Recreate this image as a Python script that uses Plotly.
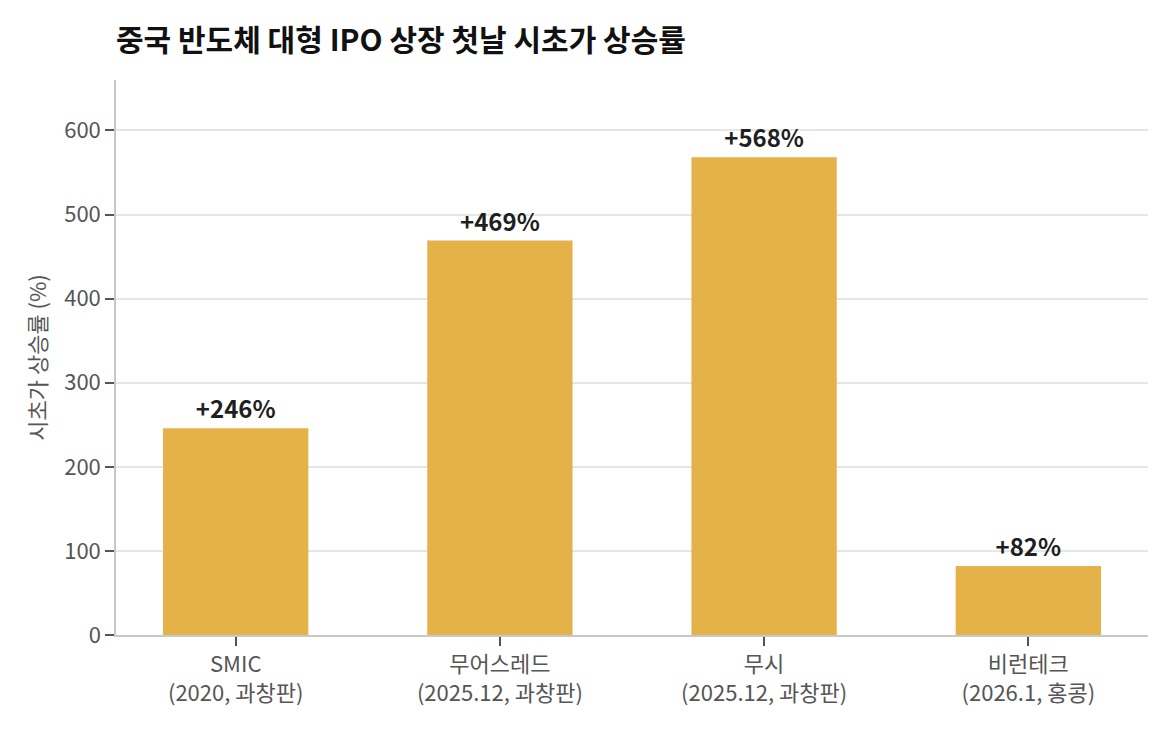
import plotly.graph_objects as go

categories = ["SMIC<br>(2020, 과창판)", "무어스레드<br>(2025.12, 과창판)", "무시<br>(2025.12, 과창판)", "비런테크<br>(2026.1, 홍콩)"]
values = [246, 469, 568, 82]
labels = ["+246%", "+469%", "+568%", "+82%"]

FONT = "Noto Sans CJK KR"

fig = go.Figure(go.Bar(
    x=categories, y=values, width=0.55,
    marker=dict(color="#E5B24A", line=dict(width=0)),
    text=labels, textposition="outside", cliponaxis=False,
    textfont=dict(family=FONT, size=24, color="#1f1f1f", weight=700),
))

fig.update_layout(
    width=1175, height=730,
    margin=dict(l=116, r=27, t=80, b=95),
    paper_bgcolor="white", plot_bgcolor="white",
    font=dict(family=FONT, color="#555555"),
    title=dict(text="중국 반도체 대형 IPO 상장 첫날 시초가 상승률", x=116/1175, xanchor="left",
               y=1-40/730, yanchor="middle",
               font=dict(family=FONT, size=30, color="#111111", weight=700)),
    showlegend=False,
    bargap=0.45,
)
fig.update_xaxes(
    range=[-0.453, 3.453],
    showline=True, linecolor="#c8c8c8", linewidth=1.5,
    ticks="outside", ticklen=9, tickcolor="#555555", tickwidth=1.5,
    tickfont=dict(family=FONT, size=22, color="#555555"),
    showgrid=False,
)
fig.update_yaxes(
    range=[0, 660],
    tickvals=[0, 100, 200, 300, 400, 500, 600],
    showline=True, linecolor="#c8c8c8", linewidth=1.5,
    ticks="outside", ticklen=9, tickcolor="#555555", tickwidth=1.5,
    tickfont=dict(family=FONT, size=22, color="#555555"),
    showgrid=True, gridcolor="#e6e6e6", gridwidth=1.5,
    zeroline=False,
    title=dict(text="시초가 상승률 (%)", font=dict(family=FONT, size=22, color="#555555"), standoff=12),
)

fig.write_html("out.html")
